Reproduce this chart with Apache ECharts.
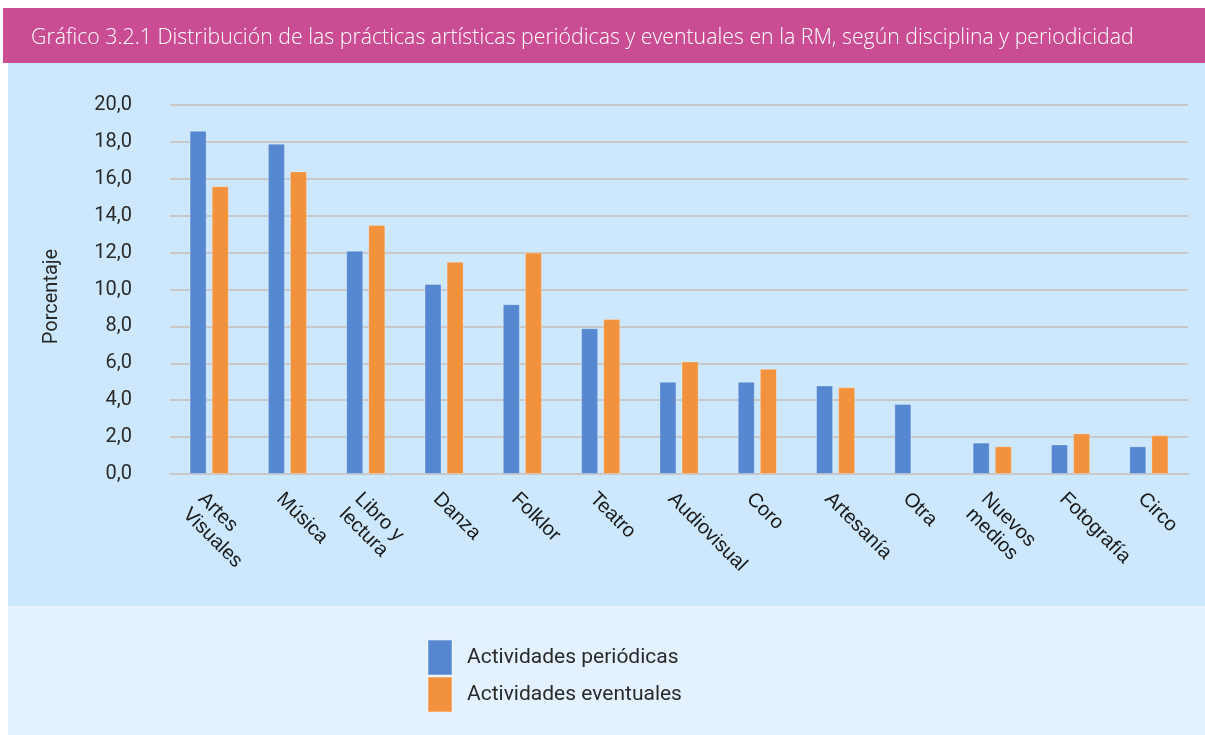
<!DOCTYPE html>
<html>
<head>
<meta charset="utf-8">
<script src="https://cdn.jsdelivr.net/npm/echarts@6/dist/echarts.min.js"></script>
<style>
    * { margin: 0; padding: 0; }
    body { background: #ffffff; }
    #main { width: 1205px; height: 735px; }
</style>
</head>
<body>
<div id="main"></div>
<script>
    // datos del gráfico
    var categorias = ['Artes\nVisuales', 'Música', 'Libro y\nlectura', 'Danza', 'Folklor', 'Teatro',
        'Audiovisual', 'Coro', 'Artesanía', 'Otra', 'Nuevos\nmedios', 'Fotografía', 'Circo'];
    var periodicas = [18.6, 17.9, 12.1, 10.3, 9.2, 7.9, 5.0, 5.0, 4.8, 3.8, 1.7, 1.6, 1.5];
    var eventuales = [15.6, 16.4, 13.5, 11.5, 12.0, 8.4, 6.1, 5.7, 4.7, null, 1.5, 2.2, 2.1];
    var nombresSeries = ['Actividades periódicas', 'Actividades eventuales'];

    var myChart = echarts.init(document.getElementById('main'));

    var option = {
        animation: false,
        color: ['#5588D1', '#F3923D'],
        graphic: [
            { type: 'rect', shape: { x: 3, y: 8, width: 1202, height: 55 }, style: { fill: '#CA4C93' }, z: -10 },
            { type: 'rect', shape: { x: 8, y: 63, width: 1197, height: 543 }, style: { fill: '#CDE8FD' }, z: -10 },
            { type: 'rect', shape: { x: 8, y: 606, width: 1197, height: 129 }, style: { fill: '#E3F2FE' }, z: -10 },
            {
                type: 'text', left: 31, top: 27,
                style: {
                    text: 'Gráfico 3.2.1 Distribución de las prácticas artísticas periódicas y eventuales en la RM, según disciplina y periodicidad',
                    fill: '#ffffff', font: '300 21.3px "Open Sans"'
                }
            }
        ],
        legend: {
            orient: 'vertical',
            left: 422,
            top: 634,
            itemWidth: 24,
            itemHeight: 35,
            itemGap: 0,
            icon: 'rect',
            textStyle: { fontFamily: 'Roboto', fontSize: 21, color: '#2a2a2a', padding: [0, 0, 0, 10] },
            data: nombresSeries
        },
        grid: { left: 170, right: 17, top: 105, bottom: 261, containLabel: false },
        xAxis: {
            type: 'category',
            data: categorias,
            axisTick: { show: false },
            axisLine: { lineStyle: { color: '#C8C8C8', width: 2 } },
            axisLabel: {
                rotate: -45,
                interval: 0,
                margin: 14,
                align: 'left',
                verticalAlign: 'top',
                fontFamily: 'Liberation Sans',
                fontSize: 20,
                lineHeight: 22,
                color: '#1a1a1a'
            }
        },
        yAxis: {
            type: 'value',
            min: 0,
            max: 20,
            interval: 2,
            name: 'Porcentaje',
            nameLocation: 'middle',
            nameGap: 108,
            nameTextStyle: { fontFamily: 'Roboto', fontSize: 20, color: '#2a2a2a', padding: [0, 14, 0, 0] },
            axisLabel: {
                margin: 38,
                fontFamily: 'Roboto',
                fontSize: 20,
                color: '#2a2a2a',
                formatter: function (v) { return v.toFixed(1).replace('.', ','); }
            },
            splitLine: { lineStyle: { color: '#C8C8C8', width: 2 } }
        },
        series: [
            {
                name: nombresSeries[0], type: 'bar', data: periodicas,
                barWidth: 17, barGap: '30%',
                itemStyle: { borderColor: 'rgba(255,255,255,0.25)', borderWidth: 1 }
            },
            {
                name: nombresSeries[1], type: 'bar', data: eventuales,
                barWidth: 17,
                itemStyle: { borderColor: 'rgba(255,255,255,0.25)', borderWidth: 1 }
            }
        ]
    };

    myChart.setOption(option);
</script>
</body>
</html>
